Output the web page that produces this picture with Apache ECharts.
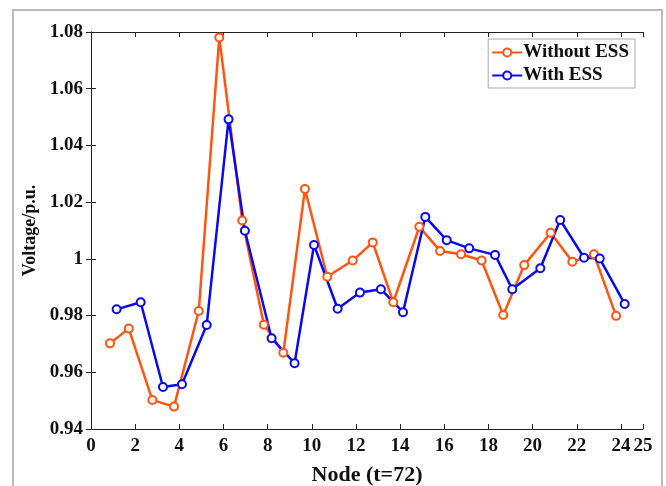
<!DOCTYPE html>
<html>
<head>
<meta charset="utf-8">
<script src="https://cdn.jsdelivr.net/npm/echarts@6/dist/echarts.min.js"></script>
<style>
  html, body { margin: 0; padding: 0; background: #fff; }
  #chart { width: 666px; height: 486px; }
</style>
</head>
<body>
<div id="chart"></div>
<script>
// 数据：节点位置与电压
const withoutX = [0.86, 1.71, 2.78, 3.76, 4.88, 5.81, 6.85, 7.83, 8.71, 9.69, 10.70, 11.85,
  12.76, 13.69, 14.87, 15.81, 16.76, 17.69, 18.67, 19.62, 20.82, 21.80, 22.78, 23.78];
const withoutY = [0.9702, 0.9754, 0.9502, 0.9479, 0.9816, 1.0781, 1.0135, 0.9768, 0.9669, 1.0246, 0.9937, 0.9994,
  1.0058, 0.9847, 1.0113, 1.0028, 1.0016, 0.9994, 0.9802, 0.9978, 1.0092, 0.9990, 1.0016, 0.9799];
const withX = [1.16, 2.25, 3.26, 4.12, 5.24, 6.23, 6.97, 8.18, 9.22, 10.10, 11.17, 12.18,
  13.13, 14.13, 15.14, 16.11, 17.13, 18.30, 19.08, 20.35, 21.25, 22.33, 23.04, 24.17];
const withY = [0.9822, 0.9847, 0.9548, 0.9558, 0.9767, 1.0492, 1.0099, 0.9720, 0.9632, 1.0049, 0.9824, 0.9881,
  0.9893, 0.9812, 1.0148, 1.0066, 1.0037, 1.0014, 0.9893, 0.9967, 1.0137, 1.0004, 1.0001, 0.9841];
const seriesNames = ['Without ESS', 'With ESS'];

const font = 'Liberation Serif';
const pair = (xs, ys) => xs.map((x, i) => [x, ys[i]]);

const chart = echarts.init(document.getElementById('chart'));

const tickStyle = { show: true, inside: true, length: 5, lineStyle: { color: '#222', width: 1 } };
const lineStyle = { show: true, lineStyle: { color: '#222', width: 1 } };
const labelStyle = { color: '#111', fontFamily: font, fontWeight: 'bold', fontSize: 19 };

const makeSeries = (name, data, color) => ({
  name: name,
  type: 'line',
  data: data,
  symbol: 'circle',
  symbolSize: 8,
  lineStyle: { color: color, width: 2.5 },
  itemStyle: { color: '#fff', borderColor: color, borderWidth: 2 },
  emphasis: { disabled: true },
  z: 3
});

chart.setOption({
  animation: false,
  grid: { left: 91, right: 23, top: 32, bottom: 57, outerBoundsMode: 'none', containLabel: false },
  legend: {
    right: 31, top: 39,
    orient: 'vertical',
    backgroundColor: '#fff',
    borderColor: '#aaa',
    borderWidth: 1,
    padding: [4, 6, 3, 3],
    itemGap: 4,
    itemWidth: 30,
    itemHeight: 10,
    textStyle: { color: '#111', fontFamily: font, fontWeight: 'bold', fontSize: 19, padding: [0, 0, 0, -4] },
    data: seriesNames
  },
  xAxis: [
    {
      type: 'value', min: 0, max: 25, interval: 2,
      name: 'Node (t=72)', nameLocation: 'middle', nameGap: 35,
      nameTextStyle: { color: '#111', fontFamily: font, fontWeight: 'bold', fontSize: 22 },
      axisLine: lineStyle, axisTick: tickStyle,
      axisLabel: Object.assign({ margin: 8, showMaxLabel: true, showMinLabel: true }, labelStyle),
      splitLine: { show: false }
    },
    {
      type: 'value', min: 0, max: 25, interval: 2, position: 'top',
      axisLine: lineStyle, axisTick: tickStyle, axisLabel: { show: false }, splitLine: { show: false }
    }
  ],
  yAxis: [
    {
      type: 'value', min: 0.94, max: 1.08, interval: 0.02,
      name: 'Voltage/p.u.', nameLocation: 'middle', nameGap: 47,
      nameTextStyle: { color: '#111', fontFamily: font, fontWeight: 'bold', fontSize: 18 },
      axisLine: lineStyle, axisTick: tickStyle,
      axisLabel: Object.assign({ margin: 8 }, labelStyle),
      splitLine: { show: false }
    },
    {
      type: 'value', min: 0.94, max: 1.08, interval: 0.02, position: 'right',
      axisLine: lineStyle, axisTick: tickStyle, axisLabel: { show: false }, splitLine: { show: false }
    }
  ],
  graphic: [
    {
      type: 'polyline', shape: { points: [[13, 490], [13, 10], [662, 10], [662, 490]] },
      style: { stroke: '#bbb', lineWidth: 2, fill: null }, silent: true
    }
  ],
  series: [
    makeSeries(seriesNames[0], pair(withoutX, withoutY), '#FF5511'),
    makeSeries(seriesNames[1], pair(withX, withY), '#0A0AF0')
  ]
});
</script>
</body>
</html>
